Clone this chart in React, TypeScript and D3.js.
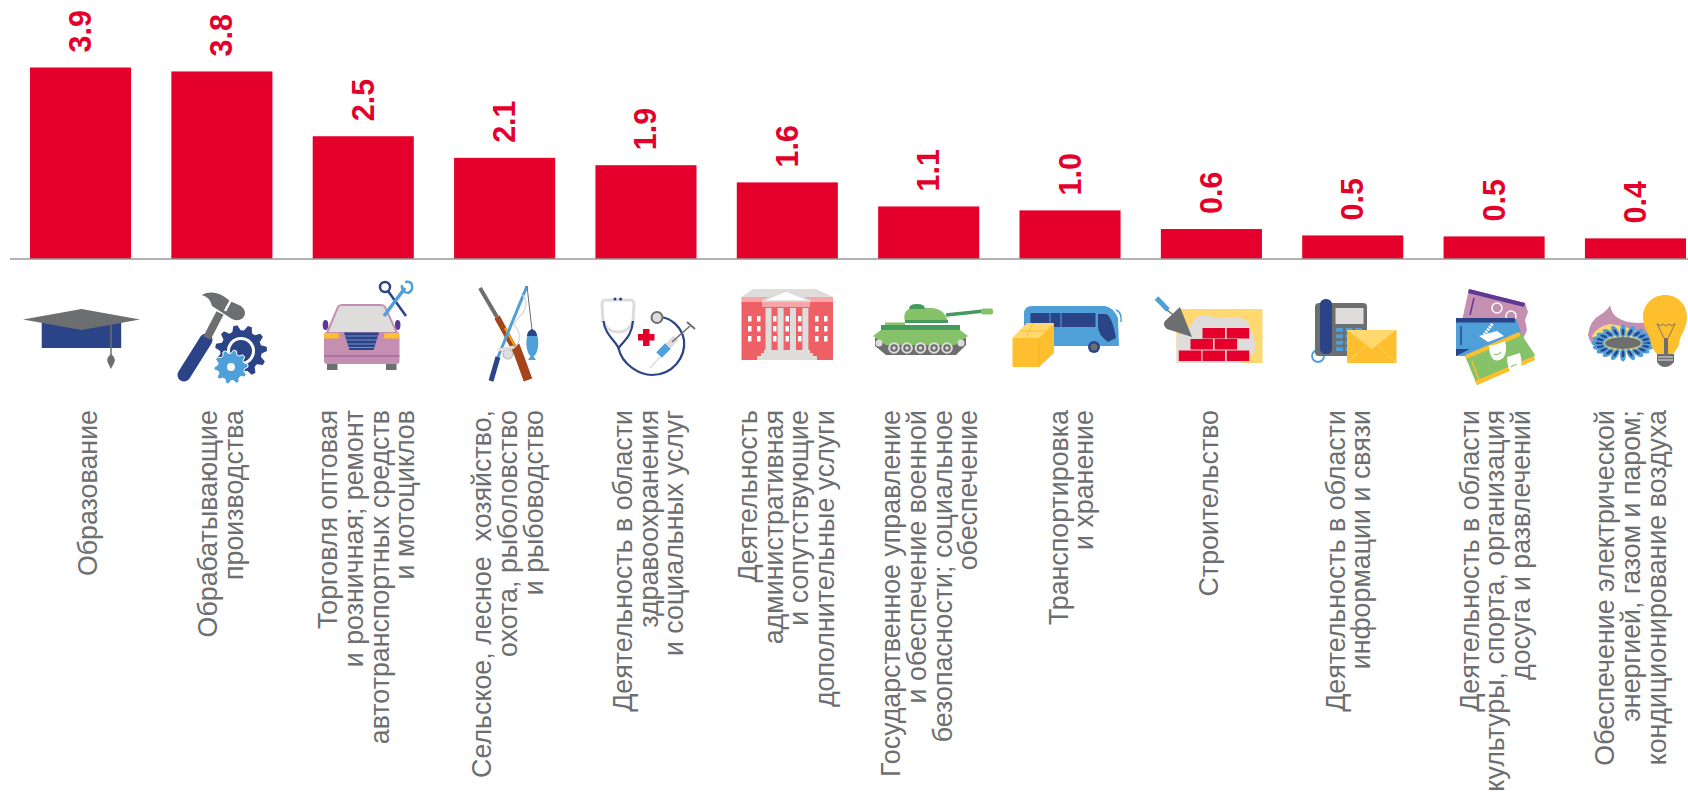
import React from "react";
import * as d3 from "d3";

const categories = [
  ["Образование"],
  ["Обрабатывающие", "производства"],
  ["Торговля оптовая", "и розничная; ремонт", "автотранспортных средств", "и мотоциклов"],
  ["Сельское, лесное  хозяйство,", "охота, рыболовство", "и рыбоводство"],
  ["Деятельность в области", "здравоохранения", "и социальных услуг"],
  ["Деятельность", "административная", "и сопутствующие", "дополнительные услуги"],
  ["Государственное управление", "и обеспечение военной", "безопасности; социальное", "обеспечение"],
  ["Транспортировка", "и хранение"],
  ["Строительство"],
  ["Деятельность в области", "информации и связи"],
  ["Деятельность в области", "культуры, спорта, организация", "досуга и развлечений"],
  ["Обеспечение электрической", "энергией, газом и паром;", "кондиционирование воздуха"],
];
const values = [3.9, 3.82, 2.5, 2.06, 1.91, 1.56, 1.07, 0.99, 0.61, 0.48, 0.46, 0.42];

// first line baseline relative to the bar centre, labels were placed by hand in the original
const labelNudge = [16, -5, -26, -13.5, -14, -30.5, -28.5, -2.5, 6.5, -8, -15.5, -21];

const RED = "#e4002b";
const GREY = "#6d6e70";
const NAVY = "#2b4488";
const BLUE = "#4f9fd8";
const YELLOW = "#fdbf2d";
const PALE = "#ffd96f";
const LIGHT = "#dedddc";
const PINK = "#c48fb1";
const PURPLE = "#5f3795";
const GREEN = "#85c26a";
const DKGREEN = "#459a5e";
const FONT = "'Liberation Sans', Arial, sans-serif";

const W = 1688;
const H = 792;
const baseY = 259;

const x = d3.scaleBand<number>().domain(d3.range(values.length)).range([30, 1686]).paddingInner(0.285).paddingOuter(0);
const y = d3.scaleLinear().domain([0, 3.9]).range([baseY, 67.5]);

function gearPath(cx: number, cy: number, r: number, teeth: number) {
  const inner = r * 0.8;
  const pts: [number, number][] = [];
  for (let i = 0; i < teeth; i++) {
    const a = (i / teeth) * Math.PI * 2;
    const s = (Math.PI * 2) / teeth;
    [[-0.5, inner], [-0.28, r], [0.0, r], [0.22, inner]].forEach(([k, rad]) => {
      pts.push([cx + Math.cos(a + k * s) * rad, cy + Math.sin(a + k * s) * rad]);
    });
  }
  return d3.line()(pts) + "Z";
}

const Cap = () => (
  <g>
    <rect x={41.7} y={322} width={79.5} height={26} fill={NAVY} />
    <path d="M23 319.5L81.5 309L140 319.5L81.5 330Z" fill={GREY} />
    <path d="M111 325V356" stroke={GREY} strokeWidth={1.5} />
    <path d="M111 354q5 4 3.500 8l-3.500 7l-3.500-7q-1.500-4 3.500-8Z" fill={GREY} />
  </g>
);

const Tools = () => (
  <g>
    <path d="M206 340L184 375" stroke={NAVY} strokeWidth={13} strokeLinecap="round" />
    <path d="M220 313L207 338" stroke={GREY} strokeWidth={8} />
    <path d="M201.700 295Q215 288 230 301L241 306Q248 312 243 318Q238 322 232 319L212 306Q210 297 201.700 295Z" fill={GREY} />
    <path d="M231 300l-6 11" stroke="#fff" strokeWidth={2.500} />
    <path d={gearPath(241, 351, 26, 11)} fill={NAVY} />
    <circle cx={241} cy={351} r={14} fill="#fff" />
    <circle cx={241} cy={351} r={11} fill={NAVY} />
    <path d={gearPath(231, 367, 17, 10)} fill={BLUE} stroke="#fff" strokeWidth={1} />
    <circle cx={231} cy={367} r={4} fill="#fff" />
  </g>
);

const Car = () => (
  <g>
    <rect x={327} y={364} width={10.500} height={6} fill={GREY} />
    <rect x={386} y={364} width={10.500} height={6} fill={GREY} />
    <ellipse cx={325.500} cy={325} rx={2.800} ry={5} fill={PURPLE} />
    <ellipse cx={397.700} cy={325} rx={2.800} ry={5} fill={PURPLE} />
    <path d="M327 333L338 307Q339 305 342 305H381Q384 305 385 307L397 333Z" fill={LIGHT} stroke={PINK} strokeWidth={2} />
    <rect x={324} y={332} width={75.500} height={32} rx={3} fill={PINK} />
    <rect x={324} y={333} width={15} height={5.500} rx={1.500} fill={YELLOW} />
    <rect x={384} y={333} width={15} height={5.500} rx={1.500} fill={YELLOW} />
    <path d="M344 332.500H379L373.600 350H349.500Z" fill={NAVY} />
    <path d="M345 336H378M346 340H377M347 344H376M348 347.500H375" stroke="#7d8fc0" strokeWidth={1} />
    <path d="M324 356H399.500" stroke="#8a5a9a" strokeWidth={1} />
    <circle cx={385} cy={287} r={5} fill="none" stroke={NAVY} strokeWidth={2.500} />
    <path d="M388 291L406 316" stroke={NAVY} strokeWidth={2.500} />
    <path d="M405 288L384 316" stroke={BLUE} strokeWidth={3.500} />
    <path d="M402 285a6.500 6.500 0 0 0 6 8q5-2 4-8" fill="none" stroke={BLUE} strokeWidth={2.500} />
    <path d="M405 282q6-1 7 3" fill="none" stroke={BLUE} strokeWidth={2.500} />
  </g>
);

const Hunt = () => (
  <g>
    <path d="M480 288L497 317" stroke={GREY} strokeWidth={4} />
    <path d="M497 317L514 348" stroke="#a5431a" strokeWidth={6} />
    <path d="M505 328L516 348" stroke="#f2a71b" strokeWidth={2} />
    <path d="M515 345L520 358L528 380" stroke="#a5431a" strokeWidth={9} fill="none" />
    <path d="M527 286L498 357" stroke={BLUE} strokeWidth={3} />
    <path d="M498 357L491 381" stroke={NAVY} strokeWidth={5} />
    <path d="M527 286L532 330" stroke={GREY} strokeWidth={1} />
    <path d="M523 295q6 8 0 18q-8 8-9 12q8 8 4 18q-4 7-12 7" fill="none" stroke={LIGHT} strokeWidth={1.500} />
    <circle cx={508} cy={354} r={5} fill={LIGHT} stroke={GREY} strokeWidth={0.800} strokeDasharray="1.500 1" />
    <path d="M498 350l16-3" stroke={LIGHT} strokeWidth={3} />
    <ellipse cx={532.300} cy={343} rx={6} ry={13.500} fill={BLUE} />
    <path d="M532 329q5 2 5 7h-10q0-5 5-7Z" fill={NAVY} />
    <path d="M532 354l-4 6h8Z" fill={BLUE} />
  </g>
);

const Health = () => (
  <g>
    <path d="M603 322L602 304Q602 300 606 300H630Q634 300 634 304L633 322" fill="none" stroke={LIGHT} strokeWidth={3} />
    <path d="M603 320Q606 332 618 332Q630 332 633 320" fill="none" stroke={LIGHT} strokeWidth={3} />
    <circle cx={615} cy={299} r={1.600} fill={NAVY} />
    <circle cx={620.600} cy={299} r={1.600} fill={NAVY} />
    <path d="M603.500 321C605 335 615 340 618.500 348C625 340 632 335 633 321" fill="none" stroke={NAVY} strokeWidth={2.200} />
    <path d="M618.500 348C622 365 640 375 652 375C672 375 686 358 684 340C682 328 672 318 660 317" fill="none" stroke={NAVY} strokeWidth={2.200} />
    <circle cx={657} cy={317.500} r={5.500} fill={LIGHT} stroke={GREY} strokeWidth={2} />
    <path d="M643 329h6.500v5h5v6.500h-5v5.500h-6.500v-5.500h-5v-6.500h5Z" fill={RED} />
    <path d="M650 368L660 357" stroke={LIGHT} strokeWidth={1.500} />
    <path d="M659 355L668 346" stroke={BLUE} strokeWidth={8} />
    <path d="M668 346L676 338" stroke={LIGHT} strokeWidth={7} />
    <path d="M672 342L690 326" stroke={GREY} strokeWidth={1.500} />
    <path d="M687 322L695 329" stroke={GREY} strokeWidth={2} />
  </g>
);

const Building = () => (
  <g>
    <path d="M753 289H816L833 297V302H741.500V297Z" fill={LIGHT} />
    <rect x={741.500} y={297} width={91.500} height={5} fill="#f7a6a8" />
    <rect x={741.500} y={302} width={91.500} height={58} fill="#ee6065" />
    <path d="M786 291L811 301H762Z" fill="#fff" stroke={LIGHT} strokeWidth={1.500} />
    <rect x={762} y={302} width={48} height={5} fill="#f7a6a8" />
    {[765.5, 777.6, 790, 802.4].map((cx) => (
      <rect key={cx} x={cx} y={308} width={6} height={42} fill={LIGHT} />
    ))}
    {[748, 757, 773, 785.500, 798, 815, 824].flatMap((wx) =>
      [316, 326, 336].map((wy) => <rect key={`${wx}-${wy}`} x={wx} y={wy} width={3.500} height={5.500} fill="#fff" />)
    )}
    <path d="M764 350H810V353H813V356H817V360H757V356H761V353H764Z" fill={LIGHT} />
  </g>
);

const Tank = () => (
  <g>
    <path d="M875 338H966V345L956 355H886L875 346Z" fill={GREY} />
    <path d="M946 315L984 311" stroke={DKGREEN} strokeWidth={3.500} />
    <rect x={981} y={308.500} width={12} height={6} rx={2} fill={GREEN} />
    <path d="M905 322Q902 310 912 308H932Q945 309 948 322Z" fill={GREEN} />
    <path d="M909 309Q909 304 917 304Q925 304 925 309Z" fill={DKGREEN} />
    <path d="M881 325H960V330L968 336L955 345H886L873 336L881 330Z" fill={GREEN} />
    <rect x={881} y={325} width={79} height={5} fill={DKGREEN} />
    <rect x={885} y={322.500} width={20} height={2.500} fill={GREEN} />
    <rect x={905} y={320} width={43} height={3} fill={DKGREEN} />
    {[894, 907, 920.5, 934, 947].map((cx) => (
      <g key={cx}>
        <circle cx={cx} cy={348} r={5.800} fill={LIGHT} />
        <circle cx={cx} cy={348} r={3.800} fill={GREY} />
        <circle cx={cx} cy={348} r={1.700} fill={LIGHT} />
      </g>
    ))}
    <circle cx={879} cy={343} r={3.500} fill={LIGHT} />
    <circle cx={961} cy={343} r={3.500} fill={LIGHT} />
  </g>
);

const Transport = () => (
  <g>
    <path d="M1024 346V314Q1024 306 1032 306H1105Q1114 308 1118 318L1119 346Z" fill={BLUE} />
    <path d="M1116 310q6 2 5 12" fill="none" stroke={BLUE} strokeWidth={1.500} />
    <rect x={1030.500} y={313} width={65} height={14} fill={NAVY} />
    <path d="M1050 313v14M1061 313v14" stroke={BLUE} strokeWidth={1} />
    <path d="M1098 314H1106Q1112 316 1116 338L1108 342Q1098 335 1098 326Z" fill={NAVY} />
    <circle cx={1094} cy={347} r={6} fill={NAVY} />
    <circle cx={1094} cy={347} r={3.500} fill={GREY} />
    <path d="M1012.500 338L1027 323H1054V353L1039 367H1012.500Z" fill={YELLOW} />
    <path d="M1012.500 338L1027 323H1054L1039 338Z" fill={PALE} />
    <path d="M1020 331H1047M1033 323L1026 338" stroke={YELLOW} strokeWidth={1} />
    <path d="M1039 338V367" stroke="#f0ad1e" strokeWidth={0.700} />
  </g>
);

const Brick = () => {
  const rows: [number, number[]][] = [
    [328, [1202.5, 1226.7]],
    [339, [1190.5, 1214.6]],
    [350.5, [1178.8, 1202.5, 1226.7]],
  ];
  return (
    <g>
      <rect x={1176.500} y={309} width={86} height={54} fill={PALE} />
      <path d="M1176.500 336L1192 325Q1194 314 1207 315Q1218 320 1228 317Q1250 316 1250 328Q1258 345 1254 353L1240 363H1176.500Z" fill={LIGHT} />
      {rows.map(([ry, xs]) => xs.map((bx) => <rect key={`${ry}-${bx}`} x={bx} y={ry} width={22.500} height={10.500} fill={RED} />))}
      <path d="M1156.500 298L1168 310" stroke={BLUE} strokeWidth={5} />
      <path d="M1167 310L1176 317" stroke={GREY} strokeWidth={1.500} />
      <path d="M1180 307L1192 337L1167 329Q1162 325 1165 321Z" fill={GREY} />
    </g>
  );
};

const Phone = () => (
  <g>
    <circle cx={1318} cy={356} r={6} fill="none" stroke={BLUE} strokeWidth={1.800} />
    <rect x={1315} y={303} width={52} height={53} rx={4} fill={GREY} />
    <rect x={1320} y={299} width={12} height={55} rx={5.500} fill={NAVY} />
    <rect x={1335.500} y={308} width={28} height={16} fill={LIGHT} />
    {[0, 1, 2].flatMap((c) =>
      [0, 1, 2, 3].map((r) => (
        <rect key={`${c}-${r}`} x={1336 + c * 9.500} y={328 + r * 6.400} width={7} height={3.800} fill={BLUE} />
      ))
    )}
    <rect x={1347} y={330} width={49.500} height={33} fill={YELLOW} />
    <path d="M1347 330H1396.500L1371.700 349Z" fill={PALE} />
    <path d="M1347 363L1366 346M1396.500 363L1378 346" stroke={PALE} strokeWidth={0.800} />
  </g>
);

const Tickets = () => (
  <g>
    <path d="M1469 289L1525 303L1528 312L1525 320L1527 330L1520 345L1461 325Z" fill={PINK} />
    <path d="M1469 289L1525 303L1524 307L1468 293Z" fill={PURPLE} />
    <path d="M1474 298L1470 315" stroke={PURPLE} strokeWidth={1.500} />
    <circle cx={1497} cy={308} r={5} fill="none" stroke="#fff" strokeWidth={1.500} />
    <circle cx={1511} cy={316} r={5} fill="none" stroke="#fff" strokeWidth={1.500} />
    <path d="M1456 319H1516L1521 332L1496 345L1468 356H1456Z" fill={BLUE} />
    <rect x={1456} y={318} width={59} height={4.500} fill={NAVY} />
    <path d="M1456 349H1470L1456 356Z" fill={NAVY} />
    <path d="M1461 326V345" stroke={NAVY} strokeWidth={1.500} />
    <path d="M1479 336L1497 331L1504 336L1488 342Z" fill="#fff" />
    <path d="M1484 335l9-12" stroke="#fff" strokeWidth={3} strokeDasharray="2 1" />
    <path d="M1465 356L1520 332L1535 355L1532 360L1477 385Z" fill={GREEN} />
    <path d="M1465 355L1519 332L1520.500 336L1466.500 359Z" fill={YELLOW} />
    <path d="M1475 381L1534 356L1535 360L1477 385Z" fill={YELLOW} />
    <path d="M1472 361L1479 380" stroke={YELLOW} strokeWidth={1.500} />
    <path d="M1489 346Q1497 345 1505 341Q1508 352 1503 358Q1495 364 1491 356Q1489 352 1489 346Z" fill="#fff" />
    <path d="M1494 354q4 2 7-2" fill="none" stroke={GREEN} strokeWidth={1.200} />
    <path d="M1507 357L1520 353Q1523 364 1520 370Q1514 376 1509 369Q1507 363 1507 357Z" fill="#fff" />
    <path d="M1511 367q3-3 6-2" fill="none" stroke={GREEN} strokeWidth={1.200} />
  </g>
);

const Energy = () => (
  <g>
    <path d="M1588 335Q1590 320 1600 315Q1608 310 1610 305Q1612 315 1618 318Q1630 325 1648 322L1652 340L1640 352L1600 350Q1590 345 1588 335Z" fill={PINK} />
    <path d="M1592 336Q1598 326 1610 324Q1630 326 1650 338L1640 352H1602Z" fill={PALE} />
    {d3.range(20).map((i) => {
      const a = (i / 20) * Math.PI * 2;
      const fx = 1623 + Math.cos(a) * 25;
      const fy = 343 + Math.sin(a) * 12;
      const rot = (Math.atan2(Math.sin(a) * 12, Math.cos(a) * 25) * 180) / Math.PI + 90;
      return (
        <g key={i} transform={`rotate(${rot} ${fx} ${fy})`}>
          <ellipse cx={fx} cy={fy} rx={3} ry={6.500} fill={BLUE} />
          <ellipse cx={fx} cy={fy + 1} rx={1.300} ry={3.500} fill={NAVY} />
        </g>
      );
    })}
    <ellipse cx={1623} cy={343} rx={18} ry={6} fill={GREY} />
    <path d="M1652 345C1652 335 1644 330 1644 317C1644 304 1654 295 1666 295C1678 295 1688 304 1688 317C1688 330 1680 335 1680 345C1676 352 1674 354 1672 356H1660C1657 353 1654 350 1652 345Z" fill={YELLOW} transform="translate(-1 0)" />
    <path d="M1657 323l3 3 3-2 3 2 3-2 3 2 3-3M1657 324L1664 338M1675 324L1668 338" fill="none" stroke={GREY} strokeWidth={0.900} />
    <path d="M1664 338h4v16h-4Z" fill={GREY} />
    <path d="M1657 354H1674V362Q1670 367 1665 367Q1660 367 1657 362Z" fill={GREY} />
    <path d="M1658 357H1673M1658 360H1673" stroke="#fff" strokeWidth={0.800} />
  </g>
);

const icons = [Cap, Tools, Car, Hunt, Health, Building, Tank, Transport, Brick, Phone, Tickets, Energy];

export default function App() {
  const bw = x.bandwidth();
  return (
    <svg width={W} height={H} style={{ position: "absolute", left: 0, top: 0, background: "#fff" }}>
      {values.map((v, i) => (
        <rect key={i} x={x(i)} y={y(v)} width={bw} height={baseY - y(v)} fill={RED} />
      ))}
      <line x1={10} x2={W} y1={baseY} y2={baseY} stroke="#999" strokeWidth={1.500} />

      {values.map((v, i) => {
        const cx = x(i)! + bw / 2;
        return (
          <text key={i} transform={`translate(${cx + 10.500},${y(v) - 15}) rotate(-90)`} fontFamily={FONT}
            fontSize={30.500} fontWeight={700} fill={RED}>
            {d3.format(".1f")(v)}
          </text>
        );
      })}

      {icons.map((Icon, i) => (
        <Icon key={i} />
      ))}

      {categories.map((lines, i) => {
        const cx = x(i)! + bw / 2 + labelNudge[i];
        return (
          <g key={i}>
            {lines.map((line, j) => (
              <text key={j} transform={`translate(${cx + j * 25.700},410) rotate(-90)`} textAnchor="end"
                fontFamily={FONT} fontSize={26.800} fill={GREY} xmlSpace="preserve" style={{ whiteSpace: "pre" }}>
                {line}
              </text>
            ))}
          </g>
        );
      })}
    </svg>
  );
}
